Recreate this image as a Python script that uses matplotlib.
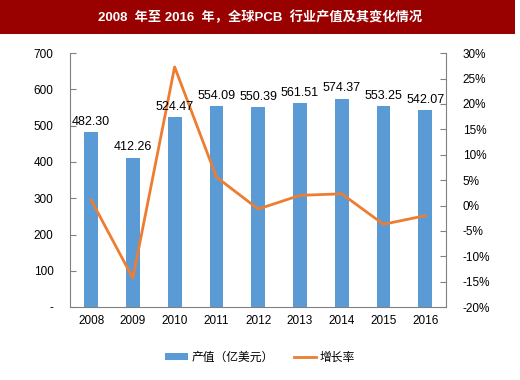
import matplotlib.pyplot as plt
from matplotlib.ticker import FuncFormatter
from matplotlib.patches import Rectangle

plt.rcParams['font.family'] = ['Liberation Sans', 'Noto Sans CJK SC', 'DejaVu Sans']
plt.rcParams['font.size'] = 8.5

years = ['2008', '2009', '2010', '2011', '2012', '2013', '2014', '2015', '2016']
output = [482.30, 412.26, 524.47, 554.09, 550.39, 561.51, 574.37, 553.25, 542.07]
growth = [1.1, -14.3, 27.3, 5.6, -0.7, 2.0, 2.3, -3.7, -2.0]

bar_color = '#5B9BD5'
line_color = '#ED7D31'

fig = plt.figure(figsize=(5.2, 3.8), dpi=100)

# title band
fig.patches.append(Rectangle((0, 0.91), 0.99, 0.09, transform=fig.transFigure,
                             facecolor='#990000', edgecolor='none', zorder=0))
fig.text(0.5, 0.955, '2008  年至 2016  年，全球PCB  行业产值及其变化情况',
         color='white', fontsize=9.5, fontweight='bold', ha='center', va='center')

ax = fig.add_axes([0.135, 0.192, 0.723, 0.668])
x = range(len(years))
ax.bar(x, output, width=0.33, color=bar_color, label='产值（亿美元）', zorder=2)

ax.set_ylim(0, 700)
ax.set_xlim(-0.5, len(years) - 0.5)
ax.set_yticks(range(0, 701, 100))
ax.yaxis.set_major_formatter(FuncFormatter(lambda v, p: '-' if v == 0 else f'{int(v)}'))
ax.set_xticks(list(x))
ax.set_xticklabels(years)
ax.tick_params(axis='y', direction='in', length=4, color='#808080', pad=12)
ax.tick_params(axis='x', length=0, pad=6)
for s in ['top', 'right']:
    ax.spines[s].set_visible(False)
for s in ['left', 'bottom']:
    ax.spines[s].set_color('#808080')

ax2 = ax.twinx()
ax2.plot(list(x), growth, color=line_color, linewidth=2, label='增长率', zorder=3)
ax2.set_ylim(-20, 30)
ax2.set_yticks(range(-20, 31, 5))
ax2.yaxis.set_major_formatter(FuncFormatter(lambda v, p: f'{int(v)}%'))
ax2.tick_params(axis='y', direction='in', length=4, color='#808080', pad=12)
for s in ['top', 'left', 'bottom']:
    ax2.spines[s].set_visible(False)
ax2.spines['right'].set_color('#808080')

# value labels drawn over the line
for xi, v in zip(x, output):
    ax2.text(xi, v + 12, f'{v:.2f}', ha='center', va='bottom', fontsize=9,
             transform=ax.transData, zorder=5)

h1, l1 = ax.get_legend_handles_labels()
h2, l2 = ax2.get_legend_handles_labels()
fig.legend(h1 + h2, l1 + l2, loc='center', bbox_to_anchor=(0.5, 0.058), ncol=2,
           frameon=False, fontsize=8.5, handlelength=1.9, handleheight=0.5,
           handletextpad=0.3, columnspacing=1.7)

fig.savefig('out.png', dpi=100)
